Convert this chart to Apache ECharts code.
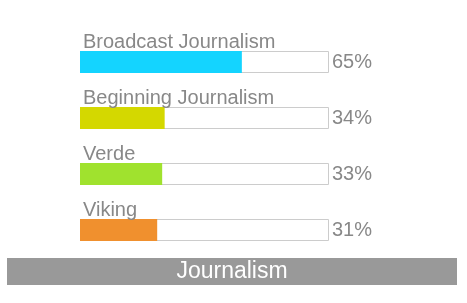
<!DOCTYPE html>
<html>
<head>
<meta charset="utf-8">
<script src="https://cdn.jsdelivr.net/npm/echarts@6/dist/echarts.min.js"></script>
<style>html,body{margin:0;padding:0;background:#fff;}#c{width:467px;height:303px;}</style>
</head>
<body>
<div id="c"></div>
<script>
const categories = ['Broadcast Journalism', 'Beginning Journalism', 'Verde', 'Viking'];
const values = [65, 34, 33, 31];
const colors = ['#14d4ff', '#d4d800', '#a0e22e', '#f0902e'];
const footerTitle = 'Journalism';

const chart = echarts.init(document.getElementById('c'));
chart.setOption({
  animation: false,
  grid: { left: 80, right: 138, top: 34, height: 224 },
  xAxis: { type: 'value', min: 0, max: 100, show: false },
  yAxis: { type: 'category', data: categories, inverse: true, show: false },
  series: [
    {
      type: 'bar',
      data: categories.map(() => 100),
      barWidth: 22,
      silent: true,
      itemStyle: { color: '#fff', borderColor: '#cccccc', borderWidth: 1 },
      label: {
        show: true, position: 'right', distance: 3,
        formatter: p => values[p.dataIndex] + '%',
        color: '#888888', fontSize: 20, fontFamily: 'Liberation Sans, Arial, sans-serif'
      }
    },
    {
      type: 'bar',
      data: values.map((v, i) => ({ value: v, itemStyle: { color: colors[i] } })),
      barWidth: 22,
      barGap: '-100%',
      label: {
        show: true, position: [3, 1], align: 'left', verticalAlign: 'bottom',
        formatter: p => categories[p.dataIndex],
        color: '#888888', fontSize: 20, lineHeight: 20, fontFamily: 'Liberation Sans, Arial, sans-serif'
      }
    }
  ],
  graphic: [
    { type: 'rect', left: 7, top: 258, shape: { width: 450, height: 27 }, style: { fill: '#999999' }, silent: true },
    { type: 'text', x: 232, y: 271.5, style: { text: footerTitle, fill: '#ffffff', fontSize: 23, align: 'center', verticalAlign: 'middle', fontFamily: 'Liberation Sans, Arial, sans-serif' } }
  ]
});
</script>
</body>
</html>
